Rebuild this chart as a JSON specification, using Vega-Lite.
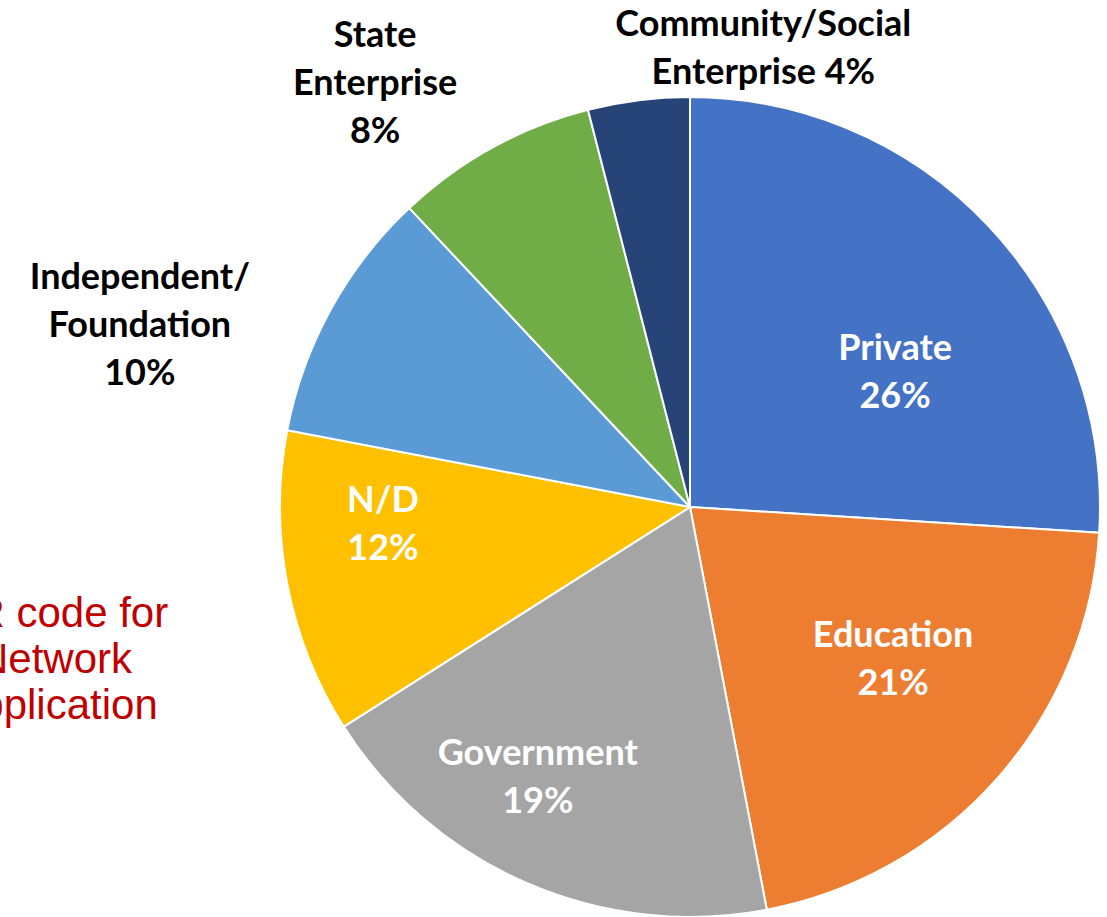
{
  "$schema": "https://vega.github.io/schema/vega-lite/v6.json",
  "width": 820,
  "height": 820,
  "autosize": {"type": "none"},
  "padding": {"left": 280, "top": 97, "right": 7, "bottom": 0},
  "background": "white",
  "config": {"view": {"stroke": null}},
  "title": {
    "text": ["QR code for", "Network", "Application"],
    "orient": "top",
    "anchor": "start",
    "frame": "group",
    "align": "center",
    "baseline": "top",
    "dx": -225,
    "dy": 768,
    "offset": 0,
    "color": "#C00000",
    "font": "Liberation Sans",
    "fontSize": 42,
    "fontWeight": "normal",
    "lineHeight": 46
  },
  "data": {
    "values": [
      {"idx": 1, "cat": "Private", "pct": 26, "label": "Private\n26%"},
      {"idx": 2, "cat": "Education", "pct": 21, "label": "Education\n21%"},
      {"idx": 3, "cat": "Government", "pct": 19, "label": "Government\n19%"},
      {"idx": 4, "cat": "N/D", "pct": 12, "label": "N/D\n12%"},
      {"idx": 5, "cat": "Independent/Foundation", "pct": 10, "label": "Independent/\nFoundation\n10%"},
      {"idx": 6, "cat": "State Enterprise", "pct": 8, "label": "State\nEnterprise\n8%"},
      {"idx": 7, "cat": "Community/Social Enterprise", "pct": 4, "label": "Community/Social\nEnterprise 4%"}
    ]
  },
  "encoding": {
    "theta": {"field": "pct", "type": "quantitative", "stack": true},
    "order": {"field": "idx", "type": "quantitative"}
  },
  "layer": [
    {
      "mark": {"type": "arc", "stroke": "white", "strokeWidth": 2},
      "encoding": {
        "color": {
          "field": "cat",
          "type": "nominal",
          "scale": {
            "domain": ["Private", "Education", "Government", "N/D", "Independent/Foundation", "State Enterprise", "Community/Social Enterprise"],
            "range": ["#4472C4", "#ED7D31", "#A5A5A5", "#FFC000", "#5B9BD5", "#70AD47", "#264478"]
          },
          "legend": null
        }
      }
    },
    {
      "mark": {"type": "text", "radius": 280, "dx": 1, "dy": 34, "color": "white", "font": "Lato", "fontWeight": "bold", "fontSize": 36, "lineHeight": 48, "lineBreak": "\n", "baseline": "middle", "align": "center"},
      "encoding": {"text": {"condition": {"test": "datum.cat === 'Private'", "field": "label"}, "value": ""}}
    },
    {
      "mark": {"type": "text", "radius": 280, "dx": -7, "dy": -56, "color": "white", "font": "Lato", "fontWeight": "bold", "fontSize": 36, "lineHeight": 48, "lineBreak": "\n", "baseline": "middle", "align": "center"},
      "encoding": {"text": {"condition": {"test": "datum.cat === 'Education'", "field": "label"}, "value": ""}}
    },
    {
      "mark": {"type": "text", "radius": 280, "dx": -41, "dy": -10, "color": "white", "font": "Lato", "fontWeight": "bold", "fontSize": 36, "lineHeight": 48, "lineBreak": "\n", "baseline": "middle", "align": "center"},
      "encoding": {"text": {"condition": {"test": "datum.cat === 'Government'", "field": "label"}, "value": ""}}
    },
    {
      "mark": {"type": "text", "radius": 280, "dx": -32, "dy": -58, "color": "white", "font": "Lato", "fontWeight": "bold", "fontSize": 36, "lineHeight": 48, "lineBreak": "\n", "baseline": "middle", "align": "center"},
      "encoding": {"text": {"condition": {"test": "datum.cat === 'N/D'", "field": "label"}, "value": ""}}
    },
    {
      "mark": {"type": "text", "radius": 500, "dx": -112, "dy": 12, "color": "black", "font": "Lato", "fontWeight": "bold", "fontSize": 36, "lineHeight": 48, "lineBreak": "\n", "baseline": "middle", "align": "center"},
      "encoding": {"text": {"condition": {"test": "datum.cat === 'Independent/Foundation'", "field": "label"}, "value": ""}}
    },
    {
      "mark": {"type": "text", "radius": 500, "dx": -74, "dy": -33, "color": "black", "font": "Lato", "fontWeight": "bold", "fontSize": 36, "lineHeight": 48, "lineBreak": "\n", "baseline": "middle", "align": "center"},
      "encoding": {"text": {"condition": {"test": "datum.cat === 'State Enterprise'", "field": "label"}, "value": ""}}
    },
    {
      "mark": {"type": "text", "radius": 500, "dx": 136, "dy": 14, "color": "black", "font": "Lato", "fontWeight": "bold", "fontSize": 36, "lineHeight": 48, "lineBreak": "\n", "baseline": "middle", "align": "center"},
      "encoding": {"text": {"condition": {"test": "datum.cat === 'Community/Social Enterprise'", "field": "label"}, "value": ""}}
    }
  ]
}
